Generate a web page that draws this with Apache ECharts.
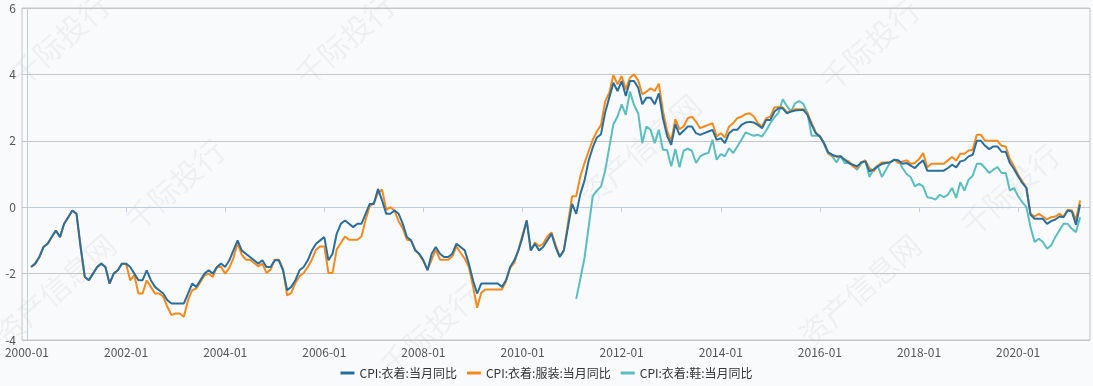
<!DOCTYPE html>
<html><head><meta charset="utf-8">
<script src="https://cdn.jsdelivr.net/npm/echarts@6/dist/echarts.min.js"></script>
<style>html,body{margin:0;padding:0;background:#f9fafc;}#c{width:1093px;height:386px;}</style>
</head><body><div id="c"></div>
<script>
// month index: 0 = 2000-01
const startIndex = 1;          // first data month 2000-02
const shoeStartIndex = 133;    // first shoe month 2011-02
const tickYears = [2000,2002,2004,2006,2008,2010,2012,2014,2016,2018,2020];
const seriesNames = ['CPI:衣着:当月同比','CPI:衣着:服装:当月同比','CPI:衣着:鞋:当月同比'];

const clothing = [
-1.8,-1.7,-1.5,-1.2,-1.1,-0.9,-0.7,-0.9,-0.5,-0.3,-0.1,-0.2,
-1.2,-2.1,-2.2,-2.0,-1.8,-1.7,-1.8,-2.3,-2.0,-1.9,-1.7,-1.7,
-1.8,-2.0,-2.2,-2.2,-1.9,-2.2,-2.4,-2.5,-2.6,-2.8,-2.9,-2.9,
-2.9,-2.9,-2.6,-2.3,-2.4,-2.2,-2.0,-1.9,-2.0,-1.8,-1.7,-1.8,
-1.6,-1.3,-1.0,-1.3,-1.4,-1.5,-1.6,-1.7,-1.6,-1.8,-1.8,-1.6,
-1.6,-1.9,-2.5,-2.4,-2.2,-1.9,-1.8,-1.6,-1.3,-1.1,-1.0,-0.9,
-1.6,-1.4,-0.8,-0.5,-0.4,-0.5,-0.6,-0.5,-0.5,-0.2,0.1,0.1,
0.55,0.2,-0.2,-0.2,-0.1,-0.2,-0.5,-0.9,-1.0,-1.3,-1.4,-1.6,
-1.9,-1.4,-1.2,-1.4,-1.5,-1.5,-1.4,-1.1,-1.2,-1.3,-1.7,-2.2,
-2.6,-2.3,-2.3,-2.3,-2.3,-2.3,-2.4,-2.2,-1.8,-1.6,-1.3,-0.9,
-0.4,-1.3,-1.1,-1.3,-1.2,-1.0,-0.8,-1.2,-1.5,-1.3,-0.6,0.1,
-0.2,0.4,0.8,1.4,1.8,2.1,2.2,2.85,3.3,3.75,3.5,3.8,
3.35,3.8,3.8,3.6,3.1,3.3,3.3,3.1,3.43,2.68,2.15,1.88,
2.5,2.18,2.3,2.43,2.43,2.23,2.18,2.23,2.28,2.33,2.03,2.08,
1.93,2.23,2.33,2.33,2.48,2.55,2.57,2.55,2.48,2.38,2.63,2.63,
2.88,2.98,2.98,2.83,2.88,2.91,2.93,2.93,2.78,2.48,2.23,2.13,
1.93,1.65,1.58,1.53,1.53,1.43,1.33,1.28,1.23,1.35,1.38,1.08,
1.13,1.23,1.3,1.33,1.35,1.43,1.41,1.31,1.33,1.25,1.18,1.31,
1.41,1.1,1.1,1.1,1.1,1.1,1.18,1.28,1.2,1.38,1.41,1.53,
1.58,2.0,2.0,1.85,1.75,1.83,1.83,1.67,1.67,1.33,1.15,0.93,
0.73,0.58,-0.23,-0.35,-0.35,-0.35,-0.5,-0.42,-0.37,-0.28,-0.3,-0.1,
-0.13,-0.53,0.08
];

const garments = [
-1.8,-1.7,-1.5,-1.2,-1.1,-0.9,-0.7,-0.9,-0.5,-0.3,-0.1,-0.2,
-1.2,-2.1,-2.2,-2.0,-1.8,-1.7,-1.8,-2.3,-2.0,-1.9,-1.7,-1.7,
-2.2,-2.05,-2.6,-2.6,-2.2,-2.4,-2.6,-2.6,-2.7,-3.0,-3.25,-3.2,
-3.2,-3.3,-2.8,-2.5,-2.45,-2.25,-2.05,-2.0,-2.1,-1.8,-1.8,-2.0,
-1.83,-1.53,-1.08,-1.43,-1.58,-1.58,-1.68,-1.78,-1.7,-1.98,-1.88,-1.58,
-1.58,-1.86,-2.66,-2.58,-2.28,-2.08,-1.98,-1.8,-1.58,-1.28,-1.18,-1.18,
-1.98,-1.98,-1.27,-1.08,-0.88,-0.98,-0.98,-0.98,-0.88,-0.38,0.03,0.13,
0.43,0.53,-0.08,0.0,-0.1,-0.43,-0.63,-0.98,-1.0,-1.27,-1.43,-1.63,
-1.88,-1.58,-1.28,-1.58,-1.58,-1.58,-1.48,-1.18,-1.38,-1.55,-1.8,-2.38,
-3.03,-2.58,-2.48,-2.48,-2.48,-2.48,-2.48,-2.23,-1.83,-1.68,-1.28,-0.83,
-0.4,-1.3,-1.06,-1.18,-1.1,-0.88,-0.76,-1.13,-1.48,-1.3,-0.48,0.33,
0.33,0.93,1.33,1.68,2.03,2.28,2.48,3.18,3.45,3.98,3.7,3.95,
3.55,3.9,4.0,3.82,3.4,3.48,3.58,3.5,3.72,2.9,2.3,2.0,
2.65,2.35,2.43,2.68,2.73,2.58,2.38,2.43,2.48,2.53,2.13,2.23,
2.1,2.43,2.53,2.68,2.73,2.8,2.83,2.73,2.53,2.43,2.68,2.73,
3.01,3.01,3.01,2.85,2.91,2.95,2.95,2.95,2.83,2.53,2.25,2.13,
1.93,1.63,1.55,1.53,1.53,1.43,1.38,1.23,1.18,1.35,1.41,1.18,
1.08,1.25,1.35,1.35,1.35,1.43,1.33,1.38,1.41,1.31,1.33,1.45,
1.63,1.2,1.31,1.31,1.31,1.31,1.41,1.51,1.41,1.61,1.61,1.71,
1.73,2.18,2.18,2.0,2.0,2.0,2.0,1.85,1.83,1.45,1.23,0.98,
0.78,0.58,-0.2,-0.28,-0.2,-0.28,-0.37,-0.3,-0.28,-0.2,-0.28,-0.08,
-0.1,-0.37,0.2
];

const shoes = [
-2.76,-2.15,-1.53,-0.6,0.33,0.5,0.62,1.1,1.8,2.5,2.73,
3.1,2.78,3.48,3.08,2.83,1.93,2.43,2.33,1.93,2.33,1.73,1.72,
1.23,1.75,1.2,1.7,1.76,1.7,1.33,1.53,1.6,1.63,2.03,1.43,
1.6,1.53,1.78,1.63,1.83,2.03,2.25,2.2,2.15,2.18,2.13,2.31,
2.53,2.71,2.85,3.25,3.05,2.88,3.13,3.2,3.11,2.83,2.15,2.15,
2.15,1.91,1.61,1.53,1.35,1.55,1.33,1.33,1.25,1.13,1.31,1.41,
0.91,1.15,1.25,0.91,1.13,1.35,1.43,1.41,1.18,1.0,0.9,0.63,
0.7,0.63,0.3,0.28,0.23,0.38,0.3,0.38,0.58,0.28,0.75,0.5,
0.83,0.95,1.31,1.31,1.18,1.03,1.13,1.21,1.03,1.03,0.5,0.58,
0.33,0.15,0.0,-0.6,-1.05,-0.95,-1.05,-1.25,-1.15,-0.9,-0.7,-0.5,
-0.5,-0.65,-0.75,-0.3
];

function pairs(arr, start){ return arr.map((v,i)=>[start+i, v]); }
const tickValues = tickYears.map(y => (y-2000)*12);

const chart = echarts.init(document.getElementById('c'));
const font = '"Noto Sans CJK SC","Noto Sans",sans-serif';

const wm = [];
const wmSpots = [[60,40,'千际投行'],[175,185,'千际投行'],[55,290,'资产信息网'],[640,150,'资产信息网'],[870,45,'千际投行'],[1010,190,'千际投行'],[860,290,'资产信息网'],[430,330,'千际投行'],[345,40,'千际投行']];
wmSpots.forEach(s => wm.push({type:'text', x:s[0], y:s[1], rotation:Math.PI*0.23, silent:true, z:-1,
  style:{text:s[2], font:'30px '+font, fill:'rgba(0,0,0,0.045)', align:'center', verticalAlign:'middle'}}));

chart.setOption({
  backgroundColor:'#f9fafc',
  animation:false,
  graphic: wm,
  grid:{left:22,right:3,top:8,bottom:46,show:true,borderColor:'#c6c6c6',borderWidth:1,backgroundColor:'transparent'},
  legend:{bottom:2,left:'center',icon:'rect',itemWidth:14,itemHeight:3,itemGap:10,
    textStyle:{fontSize:12,color:'#333',fontFamily:font}, data:seriesNames},
  xAxis:{type:'value',min:-1.2,max:257.4,
    axisLine:{show:true,lineStyle:{color:'#c3cbd8'}},
    axisTick:{show:true,length:5,customValues:tickValues,lineStyle:{color:'#c3cbd8'}},
    axisLabel:{customValues:tickValues,color:'#555',fontSize:12,fontFamily:font,margin:6,
      formatter:v=>{const y=2000+Math.round(v/12);return y+'-01';}},
    splitLine:{show:false}},
  yAxis:{type:'value',min:-4,max:6,interval:2,
    axisLine:{show:true,lineStyle:{color:'#c3cbd8'}},
    axisTick:{show:false},
    axisLabel:{color:'#555',fontSize:12,fontFamily:font,margin:6},
    splitLine:{lineStyle:{color:'#c6c6c6'}}},
  series:[
    {name:seriesNames[0],type:'line',data:pairs(clothing,startIndex),showSymbol:false,symbol:'none',
     lineStyle:{width:2,color:'#2a6e9c'},itemStyle:{color:'#2a6e9c'},z:3},
    {name:seriesNames[1],type:'line',data:pairs(garments,startIndex),showSymbol:false,symbol:'none',
     lineStyle:{width:2,color:'#f48a1e'},itemStyle:{color:'#f48a1e'},z:2},
    {name:seriesNames[2],type:'line',data:pairs(shoes,shoeStartIndex),showSymbol:false,symbol:'none',
     lineStyle:{width:2,color:'#5cbdbd'},itemStyle:{color:'#5cbdbd'},z:1}
  ]
});
</script></body></html>
